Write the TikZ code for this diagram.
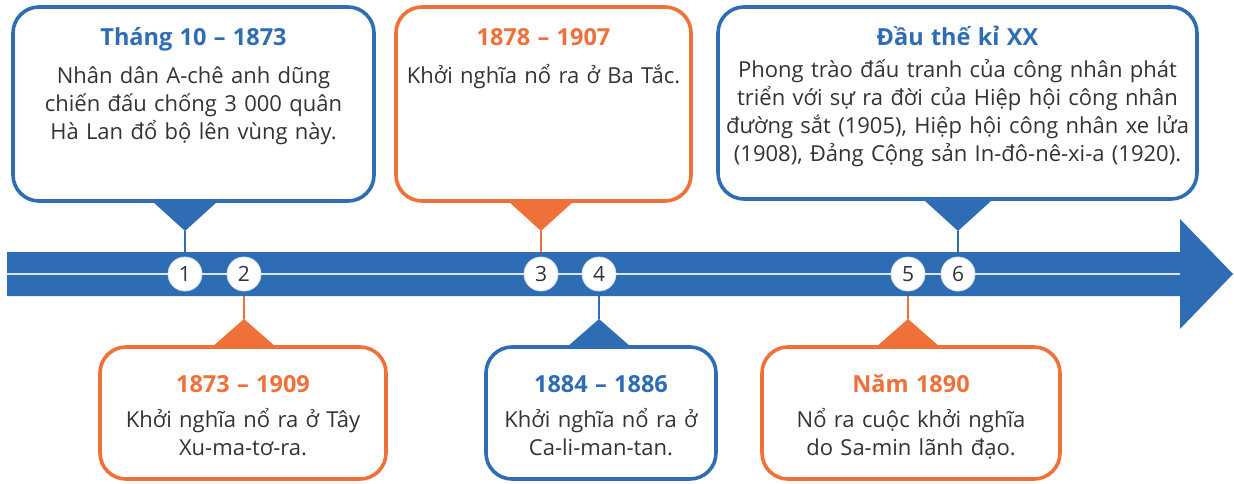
\documentclass[tikz,border=0pt]{standalone}
\usepackage{fontspec}
\setmainfont{Open Sans}
\usepackage{xcolor}
\usepackage{tikz}
\usetikzlibrary{calc}
\definecolor{tlblue}{RGB}{46,109,180}
\definecolor{tlorange}{RGB}{239,112,56}
\definecolor{tltext}{RGB}{51,51,51}
\pgfdeclarelayer{back}
\pgfdeclarelayer{band}
\pgfsetlayers{back,band,main}
\tikzstyle{evbox} = [rectangle, fill=white, line width=3.6pt,
rounded corners=26pt, inner sep=0pt]
\tikzstyle{evtext} = [align=center, inner sep=0pt, anchor=base, text=tltext,
font=\fontsize{22}{28}\selectfont]
\tikzstyle{numdot} = [circle, fill=white, draw=tlblue!20, line width=0.8pt,
minimum size=34pt, inner sep=0pt, text=tltext, font=\fontsize{21}{21}\selectfont]
\tikzstyle{stem} = [line width=1.8pt]
\newcommand{\evtitle}[2]{{\fontsize{23.5}{28}\selectfont\bfseries\color{#1}#2}}

\begin{document}
\begin{tikzpicture}[x=1pt,y=-1pt]
    \useasboundingbox (0,0) rectangle (1234,484);
    % timeline
    \begin{pgfonlayer}{band}
        \fill[tlblue] (7,252) -- (1180,252) -- (1180,219) -- (1233,274)
            -- (1180,329) -- (1180,296) -- (7,296) -- cycle;
        \draw[white!82!tlblue, line width=1.5pt] (7,274) -- (1180,274);
    \end{pgfonlayer}
    \node[numdot] (n1) at (185,274) {1};
    \node[numdot] (n2) at (244,274) {2};
    \node[numdot] (n3) at (541,274) {3};
    \node[numdot] (n4) at (599,274) {4};
    \node[numdot] (n5) at (908,274) {5};
    \node[numdot] (n6) at (958,274) {6};

    % boxes above
    \node[evbox, draw=tlblue, minimum width=361pt, minimum height=194pt] (box1) at (193.5,104) {};
    \node[evtext, text width=355pt] (txt1) at ([yshift=-40pt]box1.north) {%
        \evtitle{tlblue}{Tháng 10 – 1873}\\[10pt]
        Nhân dân A-chê anh dũng\\
        chiến đấu chống 3~000 quân\\
        Hà Lan đổ bộ lên vùng này.};
    \node[evbox, draw=tlorange, minimum width=295pt, minimum height=194pt] (box3) at (543.5,104) {};
    \node[evtext, text width=290pt] (txt3) at ([yshift=-40pt]box3.north) {%
        \evtitle{tlorange}{1878 – 1907}\\[10pt]
        Khởi nghĩa nổ ra ở Ba Tắc.};
    \node[evbox, draw=tlblue, minimum width=479pt, minimum height=192pt] (box6) at (957.5,103) {};
    \node[evtext, text width=475pt] (txt6) at ([yshift=-40pt]box6.north) {%
        \evtitle{tlblue}{Đầu thế kỉ XX}\\[4pt]
        Phong trào đấu tranh của công nhân phát\\
        triển với sự ra đời của Hiệp hội công nhân\\
        đường sắt (1905), Hiệp hội công nhân xe lửa\\
        (1908), Đảng Cộng sản In-đô-nê-xi-a (1920).};

    % boxes below
    \node[evbox, draw=tlorange, minimum width=286pt, minimum height=132pt] (box2) at (243,413) {};
    \node[evtext, text width=280pt] (txt2) at ([yshift=-47pt]box2.north) {%
        \evtitle{tlorange}{1873 – 1909}\\[7pt]
        Khởi nghĩa nổ ra ở Tây\\
        Xu-ma-tơ-ra.};
    \node[evbox, draw=tlblue, minimum width=230pt, minimum height=132pt] (box4) at (601,413) {};
    \node[evtext, text width=225pt] (txt4) at ([yshift=-47pt]box4.north) {%
        \evtitle{tlblue}{1884 – 1886}\\[7pt]
        Khởi nghĩa nổ ra ở\\
        Ca-li-man-tan.};
    \node[evbox, draw=tlorange, minimum width=298pt, minimum height=132pt] (box5) at (911,413) {};
    \node[evtext, text width=292pt] (txt5) at ([yshift=-47pt]box5.north) {%
        \evtitle{tlorange}{Năm 1890}\\[7pt]
        Nổ ra cuộc khởi nghĩa\\
        do Sa-min lãnh đạo.};

    % pointers
    \coordinate (tip1) at (185,231);
    \coordinate (tip3) at (541,231);
    \coordinate (tip6) at (958,231);
    \coordinate (tip2) at (244,319);
    \coordinate (tip4) at (599,319);
    \coordinate (tip5) at (908,319);
    \fill[tlblue] (tip1) -- ++(-33,-30) -- ++(66,0) -- cycle;
    \fill[tlorange] (tip3) -- ++(-33,-30) -- ++(66,0) -- cycle;
    \fill[tlblue] (tip6) -- ++(-33,-30) -- ++(66,0) -- cycle;
    \fill[tlorange] (tip2) -- ++(-32,28) -- ++(64,0) -- cycle;
    \fill[tlblue] (tip4) -- ++(-32,28) -- ++(64,0) -- cycle;
    \fill[tlorange] (tip5) -- ++(-32,28) -- ++(64,0) -- cycle;
    \begin{pgfonlayer}{back}
        \draw[stem, tlblue] (tip1) -- (n1);
        \draw[stem, tlorange] (tip3) -- (n3);
        \draw[stem, tlblue] (tip6) -- (n6);
        \draw[stem, tlorange] (tip2) -- (n2);
        \draw[stem, tlblue] (tip4) -- (n4);
        \draw[stem, tlorange] (tip5) -- (n5);
    \end{pgfonlayer}
\end{tikzpicture}
\end{document}
